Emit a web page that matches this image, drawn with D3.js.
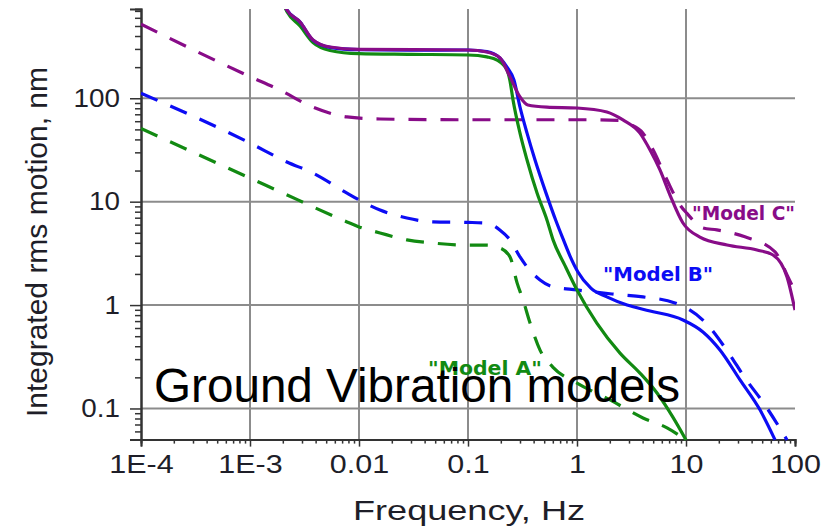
<!DOCTYPE html>
<html><head><meta charset="utf-8">
<script src="https://cdn.jsdelivr.net/npm/d3@7"></script>
<style>html,body{margin:0;padding:0;background:#fff;} svg{display:block;}</style>
</head><body><svg id="chart" width="840" height="531"></svg>
<script>
// ---------- data ----------
const freqTicks = [1e-4, 1e-3, 0.01, 0.1, 1, 10, 100];
const freqTickLabels = ["1E-4", "1E-3", "0.01", "0.1", "1", "10", "100"];
const motionTicks = [0.1, 1, 10, 100];
const motionTickLabels = ["0.1", "1", "10", "100"];
const seriesNames = ["\"Model A\"", "\"Model B\"", "\"Model C\""];

// [frequency Hz, integrated rms motion nm]
const modelA_solid = [[1.88e-3,1000],[2.18e-3,690],[2.88e-3,500],[3.79e-3,345],[5.42e-3,290],[0.01,270],[0.03,266],[0.1,262],[0.149,251],[0.185,234],[0.228,188],[0.242,150],[0.259,96],[0.30,46],[0.348,25.3],[0.43,12.1],[0.53,6.66],[0.603,4.27],[0.776,2.41],[1,1.40],[1.52,0.67],[2.48,0.343],[3.78,0.22],[5.42,0.141],[7.6,0.082],[10,0.0496]];
const modelA_dashed = [[1e-4,51],[1e-3,16.9],[2.75e-3,10.4],[3.79e-3,8.89],[7.76e-3,6.37],[0.01,5.7],[0.0156,4.98],[0.0275,4.27],[0.0477,3.98],[0.1,3.8],[0.149,3.8],[0.197,3.57],[0.243,2.92],[0.282,1.64],[0.32,1.12],[0.371,0.67],[0.458,0.367],[0.603,0.25],[1,0.176],[2.01,0.121],[4.03,0.081],[6.7,0.065],[10,0.0496]];
const modelB_solid = [[1.88e-3,1000],[2.18e-3,718],[2.88e-3,545],[3.79e-3,364],[5.42e-3,311],[0.01,295],[0.03,292],[0.1,293],[0.149,283],[0.197,245],[0.228,200],[0.264,150],[0.30,82],[0.348,46],[0.412,25.3],[0.52,12.1],[0.642,6.5],[0.745,4.36],[0.863,2.98],[1.02,2.09],[1.34,1.46],[1.88,1.2],[2.88,1.0],[4.68,0.877],[9.38,0.718],[14.3,0.55],[20.5,0.368],[31.3,0.189],[47.7,0.097],[65.6,0.0497]];
const modelB_dashed = [[1e-4,112],[1e-3,36.9],[2.18e-3,24.2],[3.79e-3,18.9],[7.76e-3,12.1],[0.01,10.4],[0.0156,8.3],[0.0275,6.95],[0.0477,6.37],[0.1,6.3],[0.149,6.2],[0.197,5.3],[0.243,4.27],[0.30,2.92],[0.348,2.34],[0.458,1.75],[0.603,1.5],[1,1.4],[2.09,1.28],[4.03,1.2],[7.92,1.05],[14.9,0.686],[24.3,0.351],[34.8,0.197],[53,0.108],[84.5,0.0496]];
const modelC_solid = [[1.88e-3,1000],[2.18e-3,714],[2.88e-3,547],[3.79e-3,366],[5.42e-3,313],[0.01,297],[0.1,293],[0.149,280],[0.197,245],[0.243,161],[0.30,103],[0.354,86],[0.53,82],[1,80.5],[1.88,73.6],[2.64,61.7],[3.78,46],[4.68,31.6],[5.77,20.3],[7.13,11.6],[9.38,6.22],[13.4,4.55],[23.8,3.81],[44.8,3.41],[62.8,3.05],[84.5,1.87],[100,0.895]];
const modelC_dashed = [[1e-4,520],[1e-3,162],[1.88e-3,120],[3.79e-3,82],[7.76e-3,66],[0.0156,63],[0.1,62],[1,62],[2.5,61],[3.06,56],[4.03,46],[5.0,31.6],[6.7,16.2],[8.8,9.3],[10.2,7.7],[14.3,5.57],[19.2,5.33],[34.7,4.57],[65.6,3.27],[84.5,1.96],[100,1.34]];

const colors = {A: "#128a12", B: "#0c0cf4", C: "#880c88"};

// ---------- chart ----------
const svg = d3.select("#chart");
const x = d3.scaleLog().domain([1e-4, 100]).range([141, 795]);
const y = d3.scaleLog().domain([0.05, 730]).range([439.6, 9]);
const [x0, x1] = x.range();
const [yB, yT] = y.range();

function stretch(sel, factor) {
  sel.each(function () {
    const len = this.getComputedTextLength();
    d3.select(this).attr("textLength", len * factor).attr("lengthAdjust", "spacingAndGlyphs");
  });
}

// grid
const grid = svg.append("g").attr("stroke", "#8c8c8c").attr("stroke-width", 2);
grid.selectAll("line.v").data(freqTicks.filter(d => d > 1e-4 && d < 100)).join("line")
  .attr("x1", d => x(d)).attr("x2", d => x(d)).attr("y1", yT).attr("y2", yB);
grid.selectAll("line.h").data(motionTicks).join("line")
  .attr("x1", x0).attr("x2", x1).attr("y1", d => y(d)).attr("y2", d => y(d));

// axes
const minorX = x.ticks().filter(d => !freqTicks.some(t => Math.abs(t - d) / t < 1e-6));
const minorY = y.ticks().filter(d => !motionTicks.some(t => Math.abs(t - d) / t < 1e-6) && d >= 0.05 && d <= 730);

const axX = svg.append("g").attr("transform", `translate(0,${yB})`);
axX.append("g").call(d3.axisBottom(x).tickValues(minorX).tickSize(4).tickFormat(""));
axX.append("g").call(d3.axisBottom(x).tickValues(freqTicks).tickSize(7).tickFormat((d, i) => freqTickLabels[i]));
const axY = svg.append("g").attr("transform", `translate(${x0},0)`);
axY.append("g").call(d3.axisLeft(y).tickValues(minorY).tickSize(6).tickFormat(""));
axY.append("g").call(d3.axisLeft(y).tickValues(motionTicks).tickSize(11).tickPadding(10).tickFormat((d, i) => motionTickLabels[i]));

svg.selectAll(".domain").attr("stroke", "#333").attr("stroke-width", 2);
svg.selectAll(".tick line").attr("stroke", "#333").attr("stroke-width", 1.5);
axX.selectAll(".tick text").attr("y", 33).attr("dy", 0)
  .attr("font-family", "Liberation Sans, Arial, sans-serif").attr("font-size", 25).attr("fill", "#1e1e28")
  .call(stretch, 1.22);
axY.selectAll(".tick text").attr("dy", 8)
  .attr("font-family", "Liberation Sans, Arial, sans-serif").attr("font-size", 26).attr("fill", "#1e1e28")
  .call(stretch, 1.07);

// clip
svg.append("clipPath").attr("id", "clip").append("rect")
  .attr("x", x0).attr("y", yT).attr("width", x1 - x0).attr("height", yB - yT + 2);

const line = d3.line().x(d => x(d[0])).y(d => y(d[1])).curve(d3.curveMonotoneX);
const lines = svg.append("g").attr("clip-path", "url(#clip)").attr("fill", "none")
  .attr("stroke-width", 3.2).attr("stroke-linecap", "butt").attr("stroke-linejoin", "round");
const series = [
  {d: modelA_dashed, c: colors.A, dash: true},
  {d: modelB_dashed, c: colors.B, dash: true},
  {d: modelC_dashed, c: colors.C, dash: true},
  {d: modelA_solid, c: colors.A, dash: false},
  {d: modelB_solid, c: colors.B, dash: false},
  {d: modelC_solid, c: colors.C, dash: false},
];
lines.selectAll("path").data(series).join("path")
  .attr("d", s => line(s.d)).attr("stroke", s => s.c)
  .attr("stroke-dasharray", s => s.dash ? "18,14" : null);

// model labels
const labelFont = "'Comic Sans MS', 'DejaVu Sans', sans-serif";
const labels = [
  {t: seriesNames[0], c: colors.A, x: 428, y: 375, w: 114},
  {t: seriesNames[1], c: colors.B, x: 603, y: 281, w: 110},
  {t: seriesNames[2], c: colors.C, x: 692, y: 220, w: 103},
];
svg.selectAll("text.model").data(labels).join("text").attr("class", "model")
  .attr("x", d => d.x).attr("y", d => d.y).text(d => d.t)
  .attr("fill", d => d.c).attr("font-family", labelFont).attr("font-weight", "bold")
  .attr("font-size", 19).attr("textLength", d => d.w).attr("lengthAdjust", "spacingAndGlyphs");

// axis titles
svg.append("text").text("Frequency, Hz")
  .attr("x", 469).attr("y", 519.5).attr("text-anchor", "middle")
  .attr("font-family", "Liberation Sans, Arial, sans-serif").attr("font-size", 27).attr("fill", "#1e1e28")
  .attr("textLength", 232).attr("lengthAdjust", "spacingAndGlyphs");
svg.append("text").text("Integrated rms motion, nm")
  .attr("transform", "translate(47,242) rotate(-90)").attr("text-anchor", "middle")
  .attr("font-family", "Liberation Sans, Arial, sans-serif").attr("font-size", 29.5).attr("fill", "#1e1e28")
  .attr("textLength", 350).attr("lengthAdjust", "spacingAndGlyphs");

// overlay title
svg.append("text").text("Ground Vibration models")
  .attr("x", 154).attr("y", 402).attr("font-family", "Liberation Sans, Arial, sans-serif")
  .attr("font-size", 47.5).attr("fill", "#000")
  .attr("textLength", 526).attr("lengthAdjust", "spacingAndGlyphs");
</script></body></html>
